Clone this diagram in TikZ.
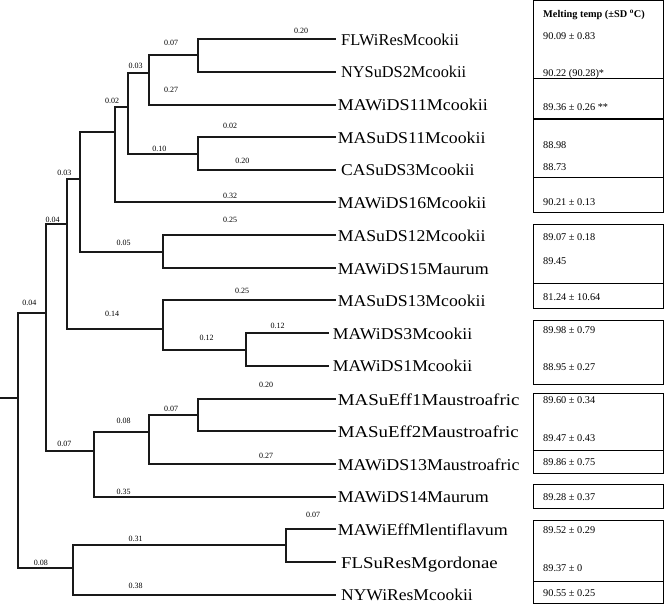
\documentclass[tikz,border=0pt]{standalone}
\usepackage{fontspec}
\setmainfont{Liberation Serif}
\usepackage{graphicx}
\newcommand{\leaflab}[2]{\resizebox{#1pt}{\height}{\fontsize{16.5}{16.5}\selectfont #2}}
\tikzset{
  branch/.style={line width=1.8pt, line cap=rect, black!90},
  blen/.style={inner sep=0pt, font=\fontsize{8}{8}\selectfont},
  leafname/.style={inner sep=0pt, anchor=base west},
  tm/.style={inner sep=0pt, anchor=base west, font=\fontsize{10.3}{10.3}\selectfont},
  tbox/.style={line width=0.9pt, black}
}
\begin{document}
\begin{tikzpicture}[x=1pt,y=-1pt]
\useasboundingbox (0,0) rectangle (664,606);
% leaf tips
\coordinate (t1) at (335,39);
\coordinate (t2) at (335,71.7);
\coordinate (t3) at (335,104.7);
\coordinate (t4) at (335,137);
\coordinate (t5) at (335,169.7);
\coordinate (t6) at (335,202.3);
\coordinate (t7) at (335,235);
\coordinate (t8) at (335,268);
\coordinate (t9) at (335,300.3);
\coordinate (t10) at (328,333.3);
\coordinate (t11) at (328,365.7);
\coordinate (t12) at (335,399);
\coordinate (t13) at (335,431.3);
\coordinate (t14) at (335,464);
\coordinate (t15) at (335,496.7);
\coordinate (t16) at (335,529);
\coordinate (t17) at (335,562);
\coordinate (t18) at (335,594.7);
% internal nodes
\coordinate (A) at (197.7,55.3);
\coordinate (B) at (149,73.3);
\coordinate (C) at (197.7,153.7);
\coordinate (D) at (128,107);
\coordinate (E) at (114.7,131.7);
\coordinate (F) at (163,251.7);
\coordinate (G) at (80,179.3);
\coordinate (H) at (245.7,349.7);
\coordinate (I) at (163,329);
\coordinate (J) at (66.7,224);
\coordinate (K) at (197.7,414.7);
\coordinate (L) at (149,432.3);
\coordinate (M) at (94.3,451.3);
\coordinate (N) at (45.7,312.7);
\coordinate (O) at (286,545.3);
\coordinate (P) at (73.3,568.3);
\coordinate (R) at (18.3,398);
\coordinate (root) at (0,398);
% branches
\draw[branch] (root) -- (R);
\draw[branch] (R) |- (N);
\draw[branch] (R) |- (P);
\draw[branch] (N) |- (J);
\draw[branch] (N) |- (M);
\draw[branch] (J) |- (G);
\draw[branch] (J) |- (I);
\draw[branch] (G) |- (E);
\draw[branch] (G) |- (F);
\draw[branch] (E) |- (D);
\draw[branch] (E) |- (t6);
\draw[branch] (D) |- (B);
\draw[branch] (D) |- (C);
\draw[branch] (B) |- (A);
\draw[branch] (B) |- (t3);
\draw[branch] (A) |- (t1);
\draw[branch] (A) |- (t2);
\draw[branch] (C) |- (t4);
\draw[branch] (C) |- (t5);
\draw[branch] (F) |- (t7);
\draw[branch] (F) |- (t8);
\draw[branch] (I) |- (t9);
\draw[branch] (I) |- (H);
\draw[branch] (H) |- (t10);
\draw[branch] (H) |- (t11);
\draw[branch] (M) |- (L);
\draw[branch] (M) |- (t15);
\draw[branch] (L) |- (K);
\draw[branch] (L) |- (t14);
\draw[branch] (K) |- (t12);
\draw[branch] (K) |- (t13);
\draw[branch] (P) |- (O);
\draw[branch] (P) |- (t18);
\draw[branch] (O) |- (t16);
\draw[branch] (O) |- (t17);
% branch lengths
\node[blen] (b1) at (301,31) {0.20};
\node[blen] (b2) at (171,42.7) {0.07};
\node[blen] (b3) at (135.7,66) {0.03};
\node[blen] (b4) at (171,90) {0.27};
\node[blen] (b5) at (112,101.3) {0.02};
\node[blen] (b6) at (230,125.7) {0.02};
\node[blen] (b7) at (159.3,149) {0.10};
\node[blen] (b8) at (242.3,161) {0.20};
\node[blen] (b9) at (230,196) {0.32};
\node[blen] (b10) at (64.3,172.7) {0.03};
\node[blen] (b11) at (52.7,220) {0.04};
\node[blen] (b12) at (230,220) {0.25};
\node[blen] (b13) at (123.7,243.3) {0.05};
\node[blen] (b14) at (242,290.7) {0.25};
\node[blen] (b15) at (29.3,302.7) {0.04};
\node[blen] (b16) at (112,314.3) {0.14};
\node[blen] (b17) at (277.7,326) {0.12};
\node[blen] (b18) at (206.7,337.7) {0.12};
\node[blen] (b19) at (266,385) {0.20};
\node[blen] (b20) at (171,409) {0.07};
\node[blen] (b21) at (123.7,420.7) {0.08};
\node[blen] (b22) at (64.3,444.3) {0.07};
\node[blen] (b23) at (266,456) {0.27};
\node[blen] (b24) at (123.7,491.7) {0.35};
\node[blen] (b25) at (313,515.3) {0.07};
\node[blen] (b26) at (135.7,538.7) {0.31};
\node[blen] (b27) at (41,562.7) {0.08};
\node[blen] (b28) at (135.7,586) {0.38};
% leaf names
\node[leafname] (n1) at (341,45) {\leaflab{117.6}{FLWiResMcookii}};
\node[leafname] (n2) at (341,77.7) {\leaflab{125}{NYSuDS2Mcookii}};
\node[leafname] (n3) at (337.6,110.7) {\leaflab{150}{MAWiDS11Mcookii}};
\node[leafname] (n4) at (337.6,143) {\leaflab{147.7}{MASuDS11Mcookii}};
\node[leafname] (n5) at (341,175.7) {\leaflab{133.3}{CASuDS3Mcookii}};
\node[leafname] (n6) at (337.6,208.3) {\leaflab{148.4}{MAWiDS16Mcookii}};
\node[leafname] (n7) at (337.6,241) {\leaflab{147.7}{MASuDS12Mcookii}};
\node[leafname] (n8) at (337.6,274) {\leaflab{151}{MAWiDS15Maurum}};
\node[leafname] (n9) at (337.6,306.3) {\leaflab{147.7}{MASuDS13Mcookii}};
\node[leafname] (n10) at (332.6,339.3) {\leaflab{139.4}{MAWiDS3Mcookii}};
\node[leafname] (n11) at (332.6,371.7) {\leaflab{139.4}{MAWiDS1Mcookii}};
\node[leafname] (n12) at (337.6,405) {\leaflab{181.7}{MASuEff1Maustroafric}};
\node[leafname] (n13) at (337.6,437.3) {\leaflab{181}{MASuEff2Maustroafric}};
\node[leafname] (n14) at (337.6,470) {\leaflab{181.7}{MAWiDS13Maustroafric}};
\node[leafname] (n15) at (337.6,502.7) {\leaflab{151}{MAWiDS14Maurum}};
\node[leafname] (n16) at (337.6,535) {\leaflab{170}{MAWiEffMlentiflavum}};
\node[leafname] (n17) at (341,568) {\leaflab{156.6}{FLSuResMgordonae}};
\node[leafname] (n18) at (341,600.7) {\leaflab{131.6}{NYWiResMcookii}};
% table boxes
\draw[tbox] (533.3,0.5) rectangle (663.3,118.7);
\draw[tbox] (533.3,78) -- (663.3,78);
\draw[tbox] (533.3,119.8) rectangle (663.3,212.7);
\draw[tbox] (533.3,177.3) -- (663.3,177.3);
\draw[tbox] (533.3,224.3) rectangle (663.3,308.3);
\draw[tbox] (533.3,283.3) -- (663.3,283.3);
\draw[tbox] (533.3,320) rectangle (663.3,384);
\draw[tbox] (533.3,393) rectangle (663.3,473.3);
\draw[tbox] (533.3,450) -- (663.3,450);
\draw[tbox] (533.3,484.3) rectangle (663.3,508.7);
\draw[tbox] (533.3,520.7) rectangle (663.3,603.3);
\draw[tbox] (533.3,581.7) -- (663.3,581.7);
% table text
\node[tm, font=\fontsize{10.3}{10.3}\selectfont\bfseries] (hd) at (543,17.5) {Melting temp ({\textpm}SD \textsuperscript{o}C)};
\node[tm] (m1) at (543,39.5) {90.09 {\textpm} 0.83};
\node[tm] (m2) at (543,76.2) {90.22 (90.28)*};
\node[tm] (m3) at (543,110.8) {89.36 {\textpm} 0.26 **};
\node[tm] (m4) at (543,148.8) {88.98};
\node[tm] (m5) at (543,170.8) {88.73};
\node[tm] (m6) at (543,205.5) {90.21 {\textpm} 0.13};
\node[tm] (m7) at (543,240.8) {89.07 {\textpm} 0.18};
\node[tm] (m8) at (543,264.5) {89.45};
\node[tm] (m9) at (543,300.2) {81.24 {\textpm} 10.64};
\node[tm] (m10) at (543,333) {89.98 {\textpm} 0.79};
\node[tm] (m11) at (543,370.2) {88.95 {\textpm} 0.27};
\node[tm] (m12) at (543,403.5) {89.60 {\textpm} 0.34};
\node[tm] (m13) at (543,441.8) {89.47 {\textpm} 0.43};
\node[tm] (m14) at (543,465.2) {89.86 {\textpm} 0.75};
\node[tm] (m15) at (543,500.2) {89.28 {\textpm} 0.37};
\node[tm] (m16) at (543,533.5) {89.52 {\textpm} 0.29};
\node[tm] (m17) at (543,571.8) {89.37 {\textpm} 0};
\node[tm] (m18) at (543,596.2) {90.55 {\textpm} 0.25};
\end{tikzpicture}
\end{document}
